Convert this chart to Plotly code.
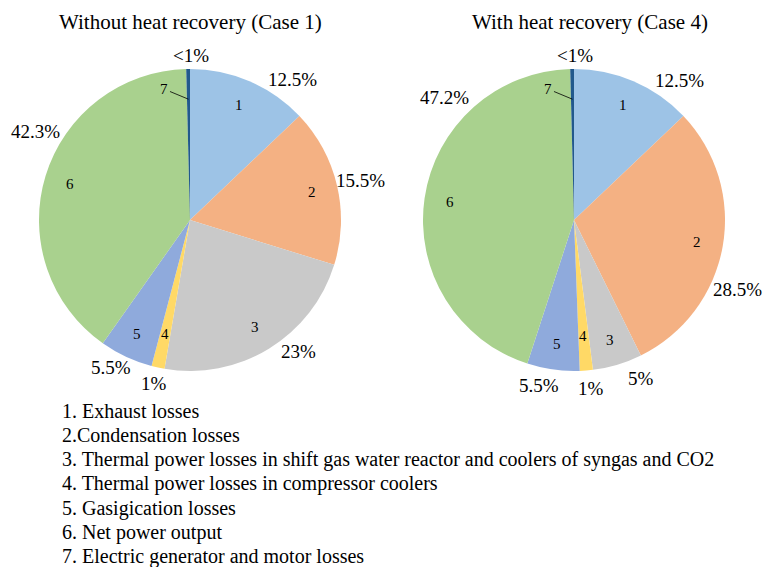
import math
import plotly.graph_objects as go

# ── Data ──────────────────────────────────────────────────────
slice_ids = ["1", "2", "3", "4", "5", "6", "7"]
# slice sizes as drawn (% of the circle)
case1_values = [12.9, 16.9, 22.9, 1.4, 5.7, 39.8, 0.4]
case4_values = [12.9, 29.8, 5.3, 1.4, 5.6, 44.6, 0.4]
# printed data labels
case1_labels = ["12.5%", "15.5%", "23%", "1%", "5.5%", "42.3%", "<1%"]
case4_labels = ["12.5%", "28.5%", "5%", "1%", "5.5%", "47.2%", "<1%"]
titles = ["Without heat recovery (Case 1)", "With heat recovery (Case 4)"]
legend_lines = [
    "1. Exhaust losses",
    "2.Condensation losses",
    "3. Thermal power losses in shift gas water reactor and coolers of syngas and CO2",
    "4. Thermal power losses in compressor coolers",
    "5. Gasigication losses",
    "6. Net power output",
    "7. Electric generator and motor losses",
]

# ── Style / geometry ─────────────────────────────────────────
W, H = 767, 567
R = 151
CENTERS = [(190, 220), (574, 220)]
COLORS = ["#9dc3e6", "#f4b183", "#c9c9c9", "#ffd966", "#8faadc", "#a9d18e", "#22598c"]
SERIF = "Liberation Serif"
# angular nudges (deg) and radial factors for the outside % labels (Excel-like placement)
PCT_NUDGE = [[13, 0, -8, 0, 3, 13, 1], [14, 13, -6, -1, 4, 35, 1]]
PCT_R = [[1.15, 1.16, 1.13, 1.11, 1.11, 1.18, 1.09],
         [1.16, 1.18, 1.14, 1.12, 1.12, 1.18, 1.09]]


def to_paper(cx, cy, r, deg):
    a = math.radians(deg)
    x = cx + r * math.sin(a)
    y = cy - r * math.cos(a)
    return x / W, 1 - y / H


def mid_angles(values):
    tot = sum(values)
    out, cum = [], 0.0
    for v in values:
        out.append((cum + v / 2) / tot * 360)
        cum += v
    return out


def txt(x, y, text, size, **kw):
    d = dict(x=x, y=y, xref="paper", yref="paper", text=text, showarrow=False,
             xanchor="center", yanchor="middle",
             font=dict(family=SERIF, size=size, color="#000"))
    d.update(kw)
    return d


fig = go.Figure()
annotations = []

for k, (vals, labs) in enumerate([(case1_values, case1_labels), (case4_values, case4_labels)]):
    cx, cy = CENTERS[k]
    fig.add_trace(go.Pie(
        values=vals, labels=slice_ids,
        sort=False, direction="clockwise", rotation=0,
        marker=dict(colors=COLORS, line=dict(width=0)),
        textinfo="none", showlegend=False, hoverinfo="label+value",
        domain=dict(x=[(cx - R) / W, (cx + R) / W],
                    y=[1 - (cy + R) / H, 1 - (cy - R) / H]),
    ))

    mids = mid_angles(vals)
    for i, m in enumerate(mids):
        # slice number
        if slice_ids[i] == "7":
            tx, ty = to_paper(cx, cy, R * 0.80, m)
            annotations.append(txt(tx, ty, "7", 15, showarrow=True, arrowhead=0,
                                   arrowwidth=0.8, arrowcolor="#000", ax=-24, ay=-10))
        else:
            r_in = 0.77 if slice_ids[i] == "4" else 0.83
            tx, ty = to_paper(cx, cy, R * r_in, m)
            annotations.append(txt(tx, ty, slice_ids[i], 15))
        # percentage
        px_, py_ = to_paper(cx, cy, R * PCT_R[k][i], m + PCT_NUDGE[k][i])
        annotations.append(txt(px_, py_, labs[i], 19))

    annotations.append(txt((cx + (0 if k == 0 else 16)) / W, 1 - 22 / H, titles[k], 21))

for j, line in enumerate(legend_lines):
    annotations.append(txt(60 / W, 1 - (411 + j * 24.3) / H, line, 20, xanchor="left"))

fig.update_layout(
    width=W, height=H,
    margin=dict(l=0, r=0, t=0, b=0),
    paper_bgcolor="#ffffff",
    annotations=annotations,
)

fig.write_html("out.html", config={"displayModeBar": False},
               post_script="document.body.style.margin='0';")
